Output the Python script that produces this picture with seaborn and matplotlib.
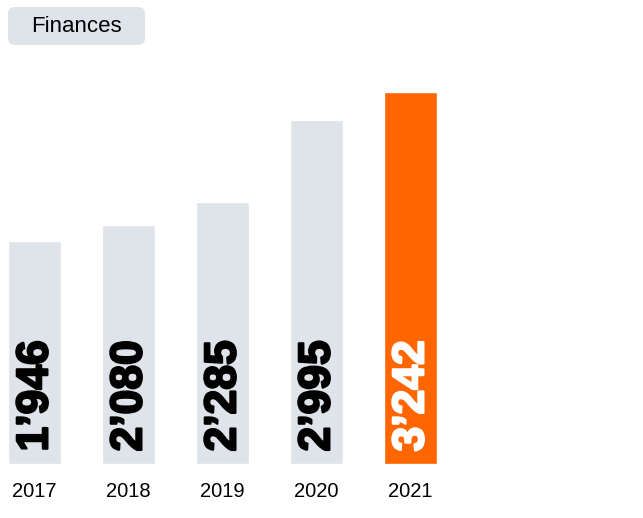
import matplotlib
matplotlib.use('Agg')
import matplotlib.pyplot as plt
import matplotlib.patheffects as pe
from matplotlib.patches import FancyBboxPatch
import pandas as pd
import seaborn as sns

years = ['2017', '2018', '2019', '2020', '2021']
values = [1946, 2080, 2285, 2995, 3242]
labels = ['1\u2019946', '2\u2019080', '2\u2019285', '2\u2019995', '3\u2019242']
bar_colors = ['#dfe3ea', '#dfe3ea', '#dfe3ea', '#dfe3ea', '#ff6600']
text_colors = ['black', 'black', 'black', 'black', 'white']

sns.set_theme(style='white')
plt.rcParams['font.family'] = ['Liberation Sans', 'DejaVu Sans']

df = pd.DataFrame({'year': years, 'value': values})

W, H = 643, 518
fig = plt.figure(figsize=(W / 100, H / 100), dpi=100)

# axes placed in pixels: baseline at y=464, 3242 reaches y=92
ax = fig.add_axes([0, (H - 464) / H, 1, 372 / H])
sns.barplot(data=df, x='year', y='value', hue='year', palette=bar_colors,
            legend=False, width=53 / 94, saturation=1, ax=ax)
ax.set_xlim(-34.5 / 94, (W - 34.5) / 94)
ax.set_ylim(0, 3242)
ax.set(xlabel='', ylabel='')
ax.set_yticks([])
sns.despine(ax=ax, left=True, bottom=True)
ax.tick_params(axis='x', length=0, pad=13, labelsize=14.5, colors='black')

for bar, lab, tc in zip(ax.patches, labels, text_colors):
    ax.annotate(lab, (bar.get_x() + bar.get_width() / 2, 0),
                xytext=(1, 9), textcoords='offset points',
                rotation=90, ha='center', va='bottom',
                fontsize=32, fontweight='bold', color=tc,
                path_effects=[pe.withStroke(linewidth=1.6, foreground=tc)])

badge = FancyBboxPatch((8 / W, 1 - 45 / H), 137 / W, 38 / H,
                       boxstyle='round,pad=0,rounding_size=0.012',
                       transform=fig.transFigure, facecolor='#dfe3ea',
                       edgecolor='none')
fig.patches.append(badge)
fig.text(76 / W, 1 - 26 / H, 'Finances', ha='center', va='center',
         fontsize=16, color='black')

fig.savefig('out.png', dpi=100)
